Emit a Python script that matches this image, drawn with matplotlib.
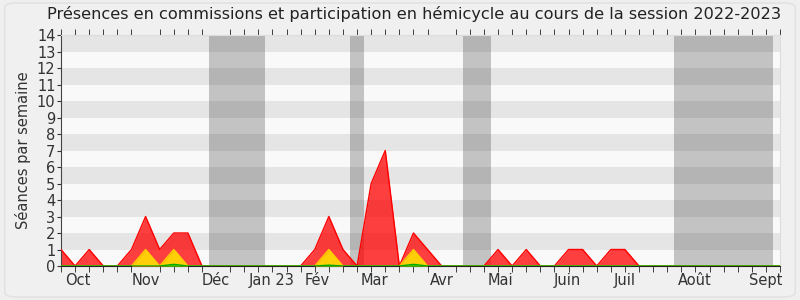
import matplotlib
matplotlib.use("Agg")
import matplotlib.pyplot as plt
from matplotlib.patches import FancyBboxPatch
import numpy as np

weeks = np.arange(52)
commission = [1, 0, 1, 0, 0, 1, 3, 1, 2, 2, 0, 0, 0, 0, 0, 0, 0, 0, 1, 3,
              1, 0, 5, 7, 0, 2, 1, 0, 0, 0, 0, 1, 0, 1, 0, 0, 1, 1, 0, 1,
              1, 0, 0, 0, 0, 0, 0, 0, 0, 0, 0, 0]
hemicycle = [0, 0, 0, 0, 0, 0, 1, 0, 1, 0, 0, 0, 0, 0, 0, 0, 0, 0, 0, 1,
             0, 0, 0, 0, 0, 1, 0, 0, 0, 0, 0, 0, 0, 0, 0, 0, 0, 0, 0, 0,
             0, 0, 0, 0, 0, 0, 0, 0, 0, 0, 0, 0]
interventions = [0, 0, 0, 0, 0, 0, 0, 0, 0.1, 0, 0, 0, 0, 0, 0, 0, 0, 0, 0, 0.05,
                 0, 0, 0, 0, 0, 0.1, 0, 0, 0, 0, 0, 0, 0, 0, 0, 0, 0, 0, 0, 0,
                 0, 0, 0, 0, 0, 0, 0, 0, 0, 0, 0, 0]
month_labels = ["Oct", "Nov", "Déc", "Jan 23", "Fév", "Mar", "Avr", "Mai",
                "Juin", "Juil", "Août", "Sept"]
month_pos = [1.17, 6.0, 11.0, 14.93, 18.14, 22.2, 27.0, 31.2, 35.92, 39.96, 44.96, 49.96]
vacations = [(10.5, 14.5), (20.5, 21.5), (28.5, 30.5), (43.5, 50.5)]
title = "Présences en commissions et participation en hémicycle au cours de la session 2022-2023"

fig = plt.figure(figsize=(8, 3), dpi=100, facecolor="#efefef")
bg = FancyBboxPatch((0.006, 0.01), 0.988, 0.98, boxstyle="round,pad=0,rounding_size=0.015",
                    transform=fig.transFigure, facecolor="#f0f0f0", edgecolor="#e0e0e0",
                    linewidth=1, zorder=-10)
fig.patches.append(bg)
ax = fig.add_axes([0.07625, 0.1133, 0.89875, 0.77])
ax.set_facecolor("#f9f9f9")

# horizontal stripes
for k in range(1, 14, 2):
    ax.axhspan(k, k + 1, color="#e5e5e5", zorder=0, linewidth=0)
for a, b in vacations:
    ax.axvspan(a, b, color="#222222", alpha=0.25, zorder=1, linewidth=0)

ax.fill_between(weeks, commission, color="#ff0000", alpha=0.75, zorder=2, linewidth=0)
ax.plot(weeks, commission, color="#ff0000", linewidth=1, zorder=3)
ax.fill_between(weeks, hemicycle, color="#ffe000", alpha=0.9, zorder=4, linewidth=0)
ax.plot(weeks, hemicycle, color="#ffd000", linewidth=1, zorder=4)
ax.fill_between(weeks, interventions, color="#00cc00", alpha=0.8, zorder=5, linewidth=0)
ax.plot(weeks, interventions, color="#00aa00", linewidth=1, zorder=5)

ax.set_xlim(0, 51)
ax.set_ylim(0, 14)
ax.set_yticks(range(0, 15))
ax.tick_params(axis="y", labelsize=10.5, length=3, pad=1, colors="#333333")
ax.set_xticks(month_pos)
ax.set_xticklabels(month_labels)
ax.tick_params(axis="x", which="major", length=0, labelsize=10.5, pad=5, colors="#333333")
ax.set_xticks(weeks, minor=True)
ax.tick_params(axis="x", which="minor", length=4, direction="out", color="#222222")
ax.tick_params(axis="x", which="minor", top=True)
for s in ["top", "right"]:
    ax.spines[s].set_color("#dddddd")
ax.spines["bottom"].set_color("#222222")
ax.spines["left"].set_color("#444444")
ax.set_ylabel("Séances par semaine", fontsize=10.5, color="#333333", labelpad=4)
fig.text(0.517, 0.953, title, ha="center", va="center", fontsize=11.65, color="#222222")

fig.savefig("out.png", dpi=100, facecolor=fig.get_facecolor())
